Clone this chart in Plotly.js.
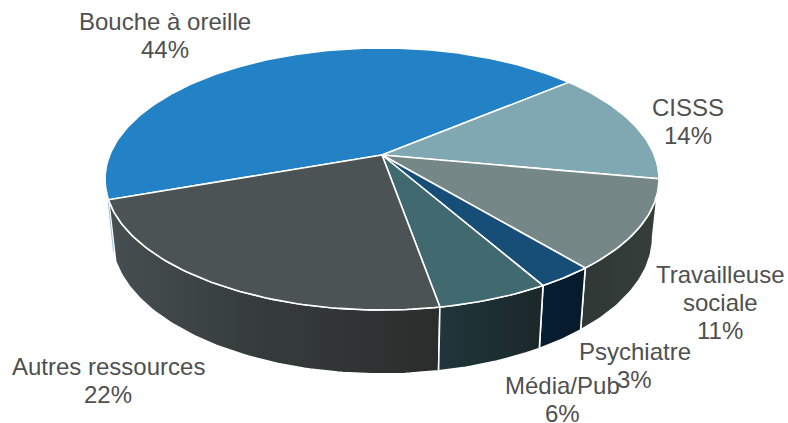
<!DOCTYPE html>
<html>
<head>
<meta charset="utf-8">
<script src="https://cdn.plot.ly/plotly-3.0.1.min.js"></script>
<style>html,body{margin:0;padding:0;background:#fff}#chart{width:788px;height:423px}</style>
</head>
<body>
<div id="chart"></div>
<script>
// Data (shares; printed labels as shown)
var categories = ['Bouche à oreille','CISSS','Travailleuse<br>sociale','Psychiatre','Média/Pub','Autres ressources'];
var shares = [44.3, 14.0, 11.0, 2.8, 5.5, 22.4];
var shareLabels = ['44%','14%','11%','3%','6%','22%'];

// Styles
var topColors = ['#2381C6','#80A8B3','#768788','#164E78','#416A70','#4B5355'];
var wallScales = [
  null, null,
  [[0,'#303836'],[1,'#363E3C']],
  [[0,'#071F33'],[1,'#061A29']],
  [[0,'#1F363B'],[1,'#1B2729']],
  [[0,'#464F51'],[0.45,'#363C3C'],[1,'#2A2D2C']]
];

// Label placement (centre of the first line of each text block)
var labelX = [165, 688, 720, 634.5, 562, 108];
var labelY = [21, 107, 274, 351, 385, 366];
var lineGap = 28;

// Projection of the tilted disc to the chart's axes
var cx = 382, cy = 155, a = 272.3, b = 126.6, k = 0.183, startDeg = 250.6;
function topPt(deg) {
  var t = deg * Math.PI / 180, u = Math.sin(t), v = Math.cos(t), w = 1 + k * v;
  return [cx + a * u / w, cy - b * v / w];
}
function botPt(deg) {
  var p = topPt(deg);
  return [cx + 0.977 * (p[0] - cx), cy + (p[1] - cy) * 1.045 + 57];
}
function arc(fn, d0, d1) {
  var pts = [], n = Math.max(2, Math.ceil(Math.abs(d1 - d0)));
  for (var i = 0; i <= n; i++) pts.push(fn(d0 + (d1 - d0) * i / n));
  return pts;
}
function poly(pts, extra) {
  var tr = {
    type: 'scatter', mode: 'lines', hoverinfo: 'skip', showlegend: false,
    x: pts.map(function (p) { return p[0]; }),
    y: pts.map(function (p) { return p[1]; }),
    fill: 'toself',
    line: { color: '#FFFFFF', width: 1.6 }
  };
  for (var key in extra) tr[key] = extra[key];
  return tr;
}

var spans = [], cum = startDeg;
shares.forEach(function (s) {
  var d = s / 100 * 360;
  spans.push([cum, cum + d]);
  cum += d;
});

var traces = [];

// Walls, back to front
[5, 2, 3, 4].forEach(function (i) {
  var pts = arc(topPt, spans[i][0], spans[i][1])
    .concat(arc(botPt, spans[i][1], spans[i][0]));
  pts.push(pts[0]);
  traces.push(poly(pts, {
    fillcolor: wallScales[i][0][1],
    fillgradient: { type: 'horizontal', colorscale: wallScales[i] }
  }));
});

// Thin sliver of the first slice's wall at the far left
var sliverA = startDeg - 0.4;
traces.push({
  type: 'scatter', mode: 'lines', hoverinfo: 'skip', showlegend: false,
  x: [topPt(sliverA)[0] - 0.8, botPt(sliverA)[0] - 1.6],
  y: [topPt(sliverA)[1], botPt(sliverA)[1] - 8],
  line: { color: '#9CC6E6', width: 1 }
});

// Top faces
shares.forEach(function (s, i) {
  var pts = [[cx, cy]].concat(arc(topPt, spans[i][0], spans[i][1]));
  pts.push([cx, cy]);
  traces.push(poly(pts, { fillcolor: topColors[i] }));
});

var annotations = [];
categories.forEach(function (c, i) {
  c.split('<br>').concat([shareLabels[i]]).forEach(function (line, j) {
    annotations.push({
      xref: 'x', yref: 'y', x: labelX[i], y: labelY[i] + j * lineGap,
      text: line,
      showarrow: false, xanchor: 'center', yanchor: 'middle', align: 'center',
      font: { family: '"Liberation Sans", Arial, sans-serif', size: 24, color: '#505050' }
    });
  });
});

Plotly.newPlot('chart', traces, {
  width: 788, height: 423,
  margin: { l: 0, r: 0, t: 0, b: 0 },
  paper_bgcolor: '#FFFFFF', plot_bgcolor: '#FFFFFF',
  xaxis: { range: [0, 788], visible: false, fixedrange: true },
  yaxis: { range: [423, 0], visible: false, fixedrange: true },
  annotations: annotations
}, { displayModeBar: false, staticPlot: true });
</script>
</body>
</html>
